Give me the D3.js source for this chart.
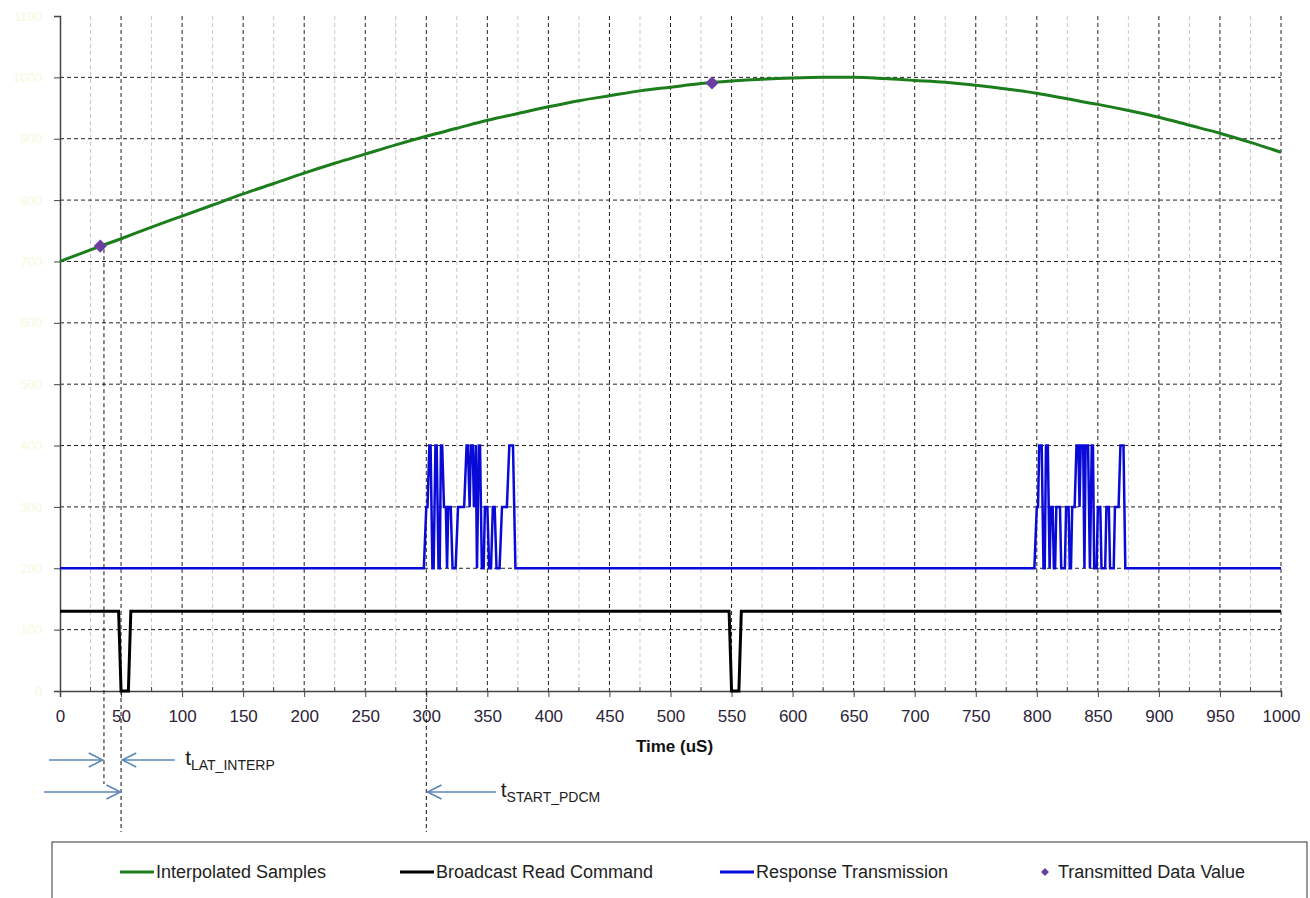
<!DOCTYPE html>
<html>
<head>
<meta charset="utf-8">
<script src="https://cdn.jsdelivr.net/npm/d3@7"></script>
<style>
  body { margin: 0; background: #fff; }
  svg { display: block; font-family: Arial, "Liberation Sans", sans-serif; }
</style>
</head>
<body>
<svg width="1310" height="898"></svg>
<script>
// time axis ticks (uS)
const xTicks = d3.range(0, 1001, 50)
const xMinor = d3.range(25, 1000, 50)
const yTicks = d3.range(0, 1101, 100)

// interpolated samples, read every 25 uS
const sampleTimes = d3.range(0, 1001, 25)
const sampleValues = [700, 719, 737, 756, 774, 792, 810, 827, 844, 860, 875, 890, 904, 917,
  930, 941, 952, 962, 970, 978, 984, 990, 994, 997, 999, 1000, 1000, 998, 995, 992, 987,
  981, 974, 965, 956, 946, 935, 922, 909, 894, 878]

// broadcast read command
const broadcast = [[0, 130], [48, 130], [50, 0], [56, 0], [58, 130], [548, 130], [550, 0],
  [556, 0], [558, 130], [1000, 130]]

// response transmission (two bursts)
const response = [[0, 200], [298, 200], [300, 300], [301, 300], [302.5, 400], [303.5, 400],
  [305, 200], [306, 200], [307.5, 400], [308.5, 400], [310, 200], [311, 200], [312, 400],
  [313, 400], [314.5, 300], [316, 300], [317, 200], [318, 300], [320, 300], [321.5, 200],
  [324, 200], [326, 300], [331, 300], [333, 400], [334, 400], [335.5, 300], [336.5, 400],
  [338, 400], [339, 300], [340.5, 400], [341.5, 200], [343, 400], [344, 400], [345.5, 200],
  [347, 200], [348, 300], [350, 300], [351.5, 200], [353, 200], [354.5, 300], [356, 300],
  [357.5, 200], [360, 200], [362, 300], [366, 300], [368, 400], [371, 400], [373, 200],
  [798, 200], [800, 300], [801, 300], [802, 400], [804, 400], [805.5, 200], [806.5, 200],
  [807.5, 400], [809, 400], [810.5, 200], [811.5, 300], [813, 300], [814, 200], [815, 200],
  [816, 300], [819, 300], [820, 200], [823, 200], [824, 300], [826, 300], [827, 200],
  [828, 200], [829, 300], [831, 300], [832.5, 400], [834, 400], [835, 300], [836, 400],
  [838, 400], [839, 200], [840, 400], [842, 400], [843.5, 200], [845, 400], [846, 400],
  [847, 200], [849, 200], [850, 300], [852, 300], [853, 200], [856, 200], [857, 300],
  [859, 300], [860, 200], [863, 200], [864, 300], [867, 300], [868.5, 400], [871, 400],
  [872.5, 200], [1000, 200]]

// transmitted data values
const transmitted = [[33, 725], [534, 991]]

const legendLabels = ['Interpolated Samples', 'Broadcast Read Command', 'Response Transmission', 'Transmitted Data Value']

const svg = d3.select('svg')
const x = d3.scaleLinear().domain([0, 1000]).range([60, 1281])
const y = d3.scaleLinear().domain([0, 1100]).range([691, 16])

const green = '#1c7d1c'
const blue = '#0a0ad8'
const purple = '#6b3fa0'
const arrowCol = '#5a86b4'

// grid
const grid = svg.append('g')
grid.selectAll('.minor').data(xMinor).join('line')
  .attr('x1', d => x(d)).attr('x2', d => x(d))
  .attr('y1', y(1100)).attr('y2', y(0))
  .attr('stroke', '#c8c8c8').attr('stroke-width', 1).attr('stroke-dasharray', '4,3')
grid.selectAll('.major').data(xTicks.filter(d => d > 0)).join('line')
  .attr('x1', d => x(d)).attr('x2', d => x(d))
  .attr('y1', y(1100)).attr('y2', y(0))
  .attr('stroke', '#222').attr('stroke-width', 1).attr('stroke-dasharray', '4,3')
grid.selectAll('.h').data(yTicks.filter(d => d > 0 && d < 1100)).join('line')
  .attr('x1', x(0)).attr('x2', x(1000))
  .attr('y1', d => y(d)).attr('y2', d => y(d))
  .attr('stroke', '#222').attr('stroke-width', 1).attr('stroke-dasharray', '4,3')

// axes
const yAxis = svg.append('g').attr('transform', `translate(${x(0)},0)`)
  .call(d3.axisLeft(y).tickValues(yTicks).tickFormat(d3.format('d')).tickSize(6).tickPadding(12))
yAxis.select('.domain').attr('stroke', '#444').attr('stroke-width', 1.5)
yAxis.selectAll('.tick line').attr('stroke', '#444')
yAxis.selectAll('text').attr('fill', '#f8f8de').attr('font-size', 13)

const xAxis = svg.append('g').attr('transform', `translate(0,${y(0)})`)
  .call(d3.axisBottom(x).tickValues(xTicks).tickFormat(d3.format('d')).tickSize(6).tickPadding(13))
xAxis.select('.domain').attr('stroke', '#444').attr('stroke-width', 1.5)
xAxis.selectAll('.tick line').attr('stroke', '#444')
xAxis.selectAll('text').attr('fill', '#2c2438').attr('font-size', 17)
svg.append('g').selectAll('line').data(xMinor).join('line')
  .attr('x1', d => x(d)).attr('x2', d => x(d))
  .attr('y1', y(0)).attr('y2', y(0) - 4)
  .attr('stroke', '#444')

svg.append('text').attr('x', x(500) + 4).attr('y', 752)
  .attr('text-anchor', 'middle').attr('font-size', 17).attr('font-weight', 'bold')
  .attr('fill', '#111').text('Time (uS)')

// series
const line = d3.line().x(d => x(d[0])).y(d => y(d[1]))

svg.append('path').datum(response).attr('d', line)
  .attr('fill', 'none').attr('stroke', blue).attr('stroke-width', 2.5)
svg.append('path').datum(broadcast).attr('d', line)
  .attr('fill', 'none').attr('stroke', '#000').attr('stroke-width', 3)
svg.append('path').datum(sampleTimes.map((t, i) => [t, sampleValues[i]]))
  .attr('d', line.curve(d3.curveMonotoneX))
  .attr('fill', 'none').attr('stroke', green).attr('stroke-width', 3)
line.curve(d3.curveLinear)

// annotation lines
const annot = svg.append('g')
annot.append('line')
  .attr('x1', x(36)).attr('x2', x(36)).attr('y1', y(720)).attr('y2', 784)
  .attr('stroke', '#111').attr('stroke-dasharray', '4,3')
annot.selectAll('.ext').data([50, 300]).join('line')
  .attr('x1', d => x(d)).attr('x2', d => x(d)).attr('y1', y(0)).attr('y2', 832)
  .attr('stroke', '#111').attr('stroke-dasharray', '4,3')

function arrow(x1, x2, yy) {
  const dir = x2 > x1 ? -1 : 1
  annot.append('line').attr('x1', x1).attr('x2', x2).attr('y1', yy).attr('y2', yy)
    .attr('stroke', arrowCol).attr('stroke-width', 1.5)
  annot.append('path')
    .attr('d', `M${x2 + dir * 14},${yy - 7}L${x2},${yy}L${x2 + dir * 14},${yy + 7}`)
    .attr('fill', 'none').attr('stroke', arrowCol).attr('stroke-width', 1.5)
}
arrow(x(-9), x(35), 760)
arrow(x(94), x(51), 760)
arrow(x(-13), x(49.5), 792)
arrow(x(357), x(301), 792)

function label(tx, ty, sub) {
  const t = annot.append('text').attr('x', tx).attr('y', ty).attr('fill', '#222')
  t.append('tspan').attr('font-size', 21).text('t')
  t.append('tspan').attr('font-size', 14).attr('dy', 5).text(sub)
}
label(x(102.5), 765, 'LAT_INTERP')
label(x(361), 797, 'START_PDCM')

// transmitted points
svg.append('g').selectAll('path').data(transmitted).join('path')
  .attr('transform', d => `translate(${x(d[0])},${y(d[1])})`)
  .attr('d', d3.symbol(d3.symbolDiamond2, 110))
  .attr('fill', purple)

// legend
const lg = svg.append('g')
lg.append('rect').attr('x', 52).attr('y', 842).attr('width', 1255).attr('height', 80)
  .attr('fill', '#fff').attr('stroke', '#333').attr('stroke-width', 1)
const legendX = [120, 400, 720, 1045]
const legendColors = [green, '#000', blue, purple]
legendLabels.forEach((name, i) => {
  const g = lg.append('g').attr('transform', `translate(${legendX[i]},872)`)
  if (i < 3) {
    g.append('line').attr('x1', 0).attr('x2', 34).attr('stroke', legendColors[i]).attr('stroke-width', 3)
    g.append('text').attr('x', 36).attr('y', 6).attr('font-size', 18).attr('fill', '#222').text(name)
  } else {
    g.append('path').attr('d', d3.symbol(d3.symbolDiamond2, 40)).attr('fill', purple)
    g.append('text').attr('x', 13).attr('y', 6).attr('font-size', 18).attr('fill', '#222').text(name)
  }
})
</script>
</body>
</html>
